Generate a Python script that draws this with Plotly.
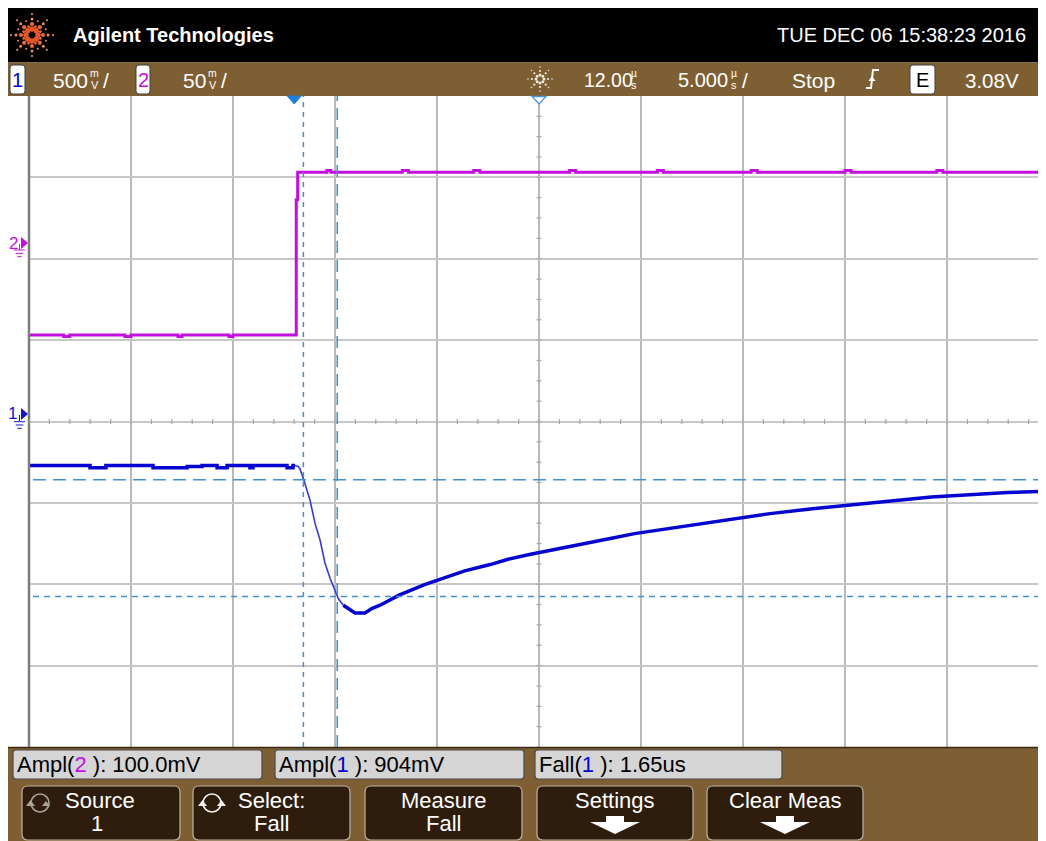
import math
import plotly.graph_objects as go

time_per_div_us = 5.0      # 5.000 us/div
delay_us = 12.0            # 12.00 us
ch1_V_per_div = 0.5        # 500 mV/div
ch2_mV_per_div = 50.0      # 50 mV/div
ch2_center_mV = -105.0     # channel 2 value at screen centre

# channel 1 (V) - flat pre-trigger level (step shape)
ch1_flat_t = [-13.0, -10.01, -9.23, -6.92, -5.25, -4.52, -3.78, -3.29, -2.17, -2.02, -0.35, -0.06, 0.04]
ch1_flat_v = [-0.270, -0.284, -0.270, -0.284, -0.277, -0.270, -0.284, -0.270, -0.284, -0.270, -0.284, -0.270, -0.270]
# channel 1 - falling edge
ch1_edge_t = [0.04, 0.20, 0.28, 0.48, 0.78, 1.02, 1.27, 1.51, 1.76, 2.00, 2.16, 2.41]
ch1_edge_v = [-0.270, -0.276, -0.290, -0.362, -0.485, -0.626, -0.730, -0.871, -0.963, -1.037, -1.088, -1.129]
# channel 1 - undershoot and recovery
ch1_tail_t = [2.41, 2.74, 2.98, 3.47, 3.80, 4.21, 5.14, 6.39, 7.12, 8.36, 9.61, 10.44, 11.59, 12.94,
              14.19, 15.43, 16.68, 18.34, 20.01, 21.46, 23.33, 25.41, 27.07, 29.16, 31.23, 33.31, 34.97, 37.0]
ch1_tail_v = [-1.129, -1.160, -1.176, -1.176, -1.149, -1.129, -1.067, -1.002, -0.971, -0.918, -0.879, -0.848,
              -0.816, -0.781, -0.747, -0.720, -0.689, -0.658, -0.624, -0.597, -0.566, -0.536, -0.515, -0.489,
              -0.464, -0.448, -0.436, -0.428]

# channel 2 (mV) - step shape
ch2_t = [-13.0, -11.3, -11.0, -8.3, -8.0, -5.7, -5.5, -3.2, -3.0, 0.10, 0.17, 1.6, 1.8, 5.3, 5.6, 8.8, 9.1,
         13.5, 13.8, 17.8, 18.1, 22.4, 22.7, 27.0, 27.3, 31.5, 31.8, 37.0]
ch2_v = [-51.8, -52.8, -51.8, -52.8, -51.8, -52.8, -51.8, -52.8, -51.8, 31.2, 48.2, 49.2, 48.2, 49.2, 48.2,
         49.2, 48.2, 49.2, 48.2, 49.2, 48.2, 49.2, 48.2, 49.2, 48.2, 49.2, 48.2, 48.2]

# measurement cursors
cursor_t_us = [0.45, 2.11]
cursor_ch1_V = [-0.358, -1.075]

header_left = "Agilent Technologies"
header_right = "TUE DEC 06 15:38:23 2016"
ch1_scale_txt = "500"
ch2_scale_txt = "50"
delay_txt = "12.00"
tdiv_txt = "5.000"
run_txt = "Stop"
trig_src_txt = "E"
trig_level_txt = "3.08V"
meas_texts = [("Ampl(", "2", " ): 100.0mV"), ("Ampl(", "1", " ): 904mV"), ("Fall(", "1", " ): 1.65us")]
softkeys = [("Source", "1"), ("Select:", "Fall"), ("Measure", "Fall"), ("Settings", None), ("Clear Meas", None)]

# ---------------- style / geometry (screen pixel positions) ----------------
W, H = 1046, 841
OFF = 8                          # page margin of the browser
PL, PR, PT, PB = 29, 1049, 96, 747
C1 = "#0505cf"
C1E = "#3b3bc8"
C2 = "#c40ee0"
CUR = "#3f8fd2"
BROWN = "#7e5f34"
KEY = "#2e1d0c"
F = "Liberation Sans, Arial, sans-serif"

x_range = [delay_us - 5 * time_per_div_us, delay_us + 5 * time_per_div_us]
y1_range = [-4 * ch1_V_per_div, 4 * ch1_V_per_div]
y2_range = [ch2_center_mV - 4 * ch2_mV_per_div, ch2_center_mV + 4 * ch2_mV_per_div]
px_per_V = (PB - PT) / (y1_range[1] - y1_range[0])
px_per_us = (PR - PL) / (x_range[1] - x_range[0])


def X(x):
    return (x - OFF) / W


def Y(y):
    return 1 - (y - OFF) / H


def P(x, y):
    return f"{X(x):.5f},{Y(y):.5f}"


def rrect(x0, y0, x1, y1, r):
    return (f"M{P(x0 + r, y0)} L{P(x1 - r, y0)} Q{P(x1, y0)} {P(x1, y0 + r)} L{P(x1, y1 - r)} "
            f"Q{P(x1, y1)} {P(x1 - r, y1)} L{P(x0 + r, y1)} Q{P(x0, y1)} {P(x0, y1 - r)} "
            f"L{P(x0, y0 + r)} Q{P(x0, y0)} {P(x0 + r, y0)} Z")


shapes = []
annotations = []


def rect(x0, y0, x1, y1, color, layer="below"):
    shapes.append(dict(type="rect", xref="paper", yref="paper", x0=X(x0), x1=X(x1), y0=Y(y1), y1=Y(y0),
                       fillcolor=color, line=dict(width=0), layer=layer))


def rpath(x0, y0, x1, y1, r, fill, lc, lw):
    shapes.append(dict(type="path", xref="paper", yref="paper", path=rrect(x0, y0, x1, y1, r),
                       fillcolor=fill, line=dict(color=lc, width=lw), layer="above"))


def poly(pts, fill, lc=None, lw=0):
    path = "M" + " L".join(P(a, b) for a, b in pts) + " Z"
    shapes.append(dict(type="path", xref="paper", yref="paper", path=path, fillcolor=fill,
                       line=dict(color=lc or fill, width=lw), layer="above"))


def line(x0, y0, x1, y1, color, width, dash="solid"):
    shapes.append(dict(type="line", xref="paper", yref="paper", x0=X(x0), x1=X(x1), y0=Y(y0), y1=Y(y1),
                       line=dict(color=color, width=width, dash=dash), layer="above"))


def dot(cx, cy, r, color):
    shapes.append(dict(type="circle", xref="paper", yref="paper", x0=X(cx - r), x1=X(cx + r),
                       y0=Y(cy + r), y1=Y(cy - r), fillcolor=color, line=dict(width=0), layer="above"))


def text(t, x, y, size, color="white", xanchor="left", family=F):
    annotations.append(dict(text=t, x=X(x), y=Y(y), xref="paper", yref="paper", showarrow=False,
                            xanchor=xanchor, yanchor="middle", font=dict(family=family, size=size, color=color)))


# background panels
rect(7, 7.5, W + 10, 62.5, "black")
rect(7, 62.5, W + 10, PT, BROWN)
rect(7, PB, W + 10, H + 10, BROWN)
line(7, PB + 0.5, W + 10, PB + 0.5, "#3a2a12", 1.5)

# Agilent spark logo
for k in range(8):
    a = math.radians(k * 45)
    for r, s, c in [(6, 2.7, "#e8552d"), (11, 2.1, "#ea6a3c"), (16, 1.5, "#ee8a5a"), (21, 1.0, "#f0a47a")]:
        dot(32 + r * math.cos(a), 35 + r * math.sin(a), s, c)
    a2 = math.radians(k * 45 + 22.5)
    for r, s, c in [(9, 1.4, "#ea6a3c"), (15, 1.0, "#ee8a5a")]:
        dot(32 + r * math.cos(a2), 35 + r * math.sin(a2), s, c)

text(f"<b>{header_left}</b>", 71, 35, 20)
text(header_right, 1028, 35, 20, xanchor="right")

# status bar
rpath(10, 65, 25, 94, 3, "white", "#404040", 1)
text("1", 17.5, 80, 20, color="#0000cc", xanchor="center")
text(ch1_scale_txt, 51, 80, 21)
text("m", 94.5, 73, 10.5, xanchor="center")
text("V", 94.5, 85, 11, xanchor="center")
text("/", 101, 80, 21)
rpath(136, 65, 150, 94, 3, "white", "#404040", 1)
text("2", 143, 80, 20, color=C2, xanchor="center")
text(ch2_scale_txt, 181, 80, 21)
text("m", 212.5, 73, 10.5, xanchor="center")
text("V", 212.5, 85, 11, xanchor="center")
text("/", 219, 80, 21)
for k in range(8):
    a = math.radians(k * 45)
    for r, s in [(4, 1.5), (8, 1.1), (12, 0.8)]:
        dot(540 + r * math.cos(a), 79 + r * math.sin(a), s, "#efe8dc")
text(delay_txt, 582, 80, 19.5)
text("µ", 634, 73, 10.5, xanchor="center")
text("s", 634, 85, 11, xanchor="center")
text(tdiv_txt, 676, 80, 20)
text("µ", 734, 73, 10.5, xanchor="center")
text("s", 734, 85, 11, xanchor="center")
text("/", 740, 80, 21)
text(run_txt, 790, 80, 21)
shapes.append(dict(type="path", xref="paper", yref="paper",
                   path=f"M{P(866, 88)} L{P(871, 88)} L{P(873, 70)} L{P(879, 70)}",
                   line=dict(color="white", width=2), layer="above"))
poly([(868.5, 81), (872, 76), (875.5, 81)], "white")
rpath(910, 65, 935, 94, 3, "white", "#404040", 1)
text(trig_src_txt, 922.5, 80, 20, color="black", xanchor="center")
text(trig_level_txt, 1021, 80, 20.5, xanchor="right")

# measurement boxes
boxes = [(13, 262), (275, 524), (535, 782)]
for (bx0, bx1), (a, ch, b) in zip(boxes, meas_texts):
    rpath(bx0, 750, bx1, 779, 3, "#d5d5d5", "#4a4a4a", 1.2)
    col = C2 if ch == "2" else "#0000cc"
    text(f"{a}<span style='color:{col}'>{ch}</span>{b}", bx0 + 2, 764.5, 22, color="black")

# softkeys
keys = [(22, 180), (193, 350), (365, 522), (537, 693), (707, 863)]
for i, ((kx0, kx1), (l1, l2)) in enumerate(zip(keys, softkeys)):
    rpath(kx0, 786, kx1, 840, 6, KEY, "#bdb3a6", 1.2)
    cx = (kx0 + kx1) / 2
    if i == 0:
        cx = 100
    if i == 1:
        cx = 271
    text(l1, cx, 800, 22, xanchor="center")
    if l2:
        text(l2, cx - (3 if i == 0 else 0), 823, 22, xanchor="center")
    else:
        poly([(cx - 9, 816), (cx + 9, 816), (cx + 9, 822), (cx + 25, 822), (cx, 834), (cx - 25, 822),
              (cx - 9, 822)], "white")
# rotate icons on the first two softkeys
for (ix, col) in [(40, "#a9a39a"), (212, "#f2f2f2")]:
    shapes.append(dict(type="circle", xref="paper", yref="paper", x0=X(ix - 9), x1=X(ix + 9),
                       y0=Y(812), y1=Y(794), line=dict(color=col, width=1.6), layer="above"))
    poly([(ix - 14, 806), (ix - 5, 806), (ix - 9.5, 800)], col)
    poly([(ix + 5, 806), (ix + 14, 806), (ix + 9.5, 800)] if ix > 100 else
         [(ix + 2, 806), (ix + 10, 806), (ix + 6, 801)], col)

# ground reference markers
text("2", 13, 243, 17, color=C2, xanchor="center")
poly([(21, 237), (28, 243), (21, 249)], C2)
line(19.5, 244, 19.5, 250, C2, 1)
line(14, 250, 25, 250, C2, 1)
line(15.7, 253.3, 23.3, 253.3, C2, 1)
line(17.3, 256.7, 21.7, 256.7, C2, 1)
text("1", 12.5, 413, 17, color="#1414cc", xanchor="center")
poly([(21, 408), (28, 414), (21, 420)], "#1414cc")
line(19.5, 415, 19.5, 421.5, "#1414cc", 1)
line(14, 421.7, 25, 421.7, "#1414cc", 1)
line(15.7, 425, 23.3, 425, "#1414cc", 1)
line(17.3, 428.3, 21.7, 428.3, "#1414cc", 1)

# left screen border
line(PL, PT, PL, PB, "#7d7d7d", 2.5)

# centre-axis minor ticks (data coordinates)
tick_h = 2.5 / px_per_V
tick_w = 2.5 / px_per_us
t = x_range[0]
while t < x_range[1]:
    shapes.append(dict(type="line", xref="x", yref="y", x0=t, x1=t, y0=-tick_h, y1=tick_h,
                       line=dict(color="#a8a8a8", width=1.2), layer="above"))
    t += time_per_div_us / 5
v = y1_range[0]
while v <= y1_range[1] + 1e-9:
    shapes.append(dict(type="line", xref="x", yref="y", x0=delay_us - tick_w, x1=delay_us + tick_w, y0=v, y1=v,
                       line=dict(color="#a8a8a8", width=1.2), layer="above"))
    v += ch1_V_per_div / 4

# cursors
for tc, dash in zip(cursor_t_us, ["5px,5px", "12px,7px"]):
    shapes.append(dict(type="line", xref="x", yref="paper", x0=tc, x1=tc, y0=Y(PB), y1=Y(PT),
                       line=dict(color=CUR, width=1.5, dash=dash), layer="above"))
for vc, dash in zip(cursor_ch1_V, ["13px,7px", "6px,5px"]):
    shapes.append(dict(type="line", xref="paper", yref="y", x0=X(PL + 4), x1=1, y0=vc, y1=vc,
                       line=dict(color=CUR, width=1.5, dash=dash), layer="above"))

# trigger (t=0) and delay markers at top
hw = 7 / px_per_us
shapes.append(dict(type="path", xref="x", yref="paper",
                   path=f"M{-hw},{Y(PT):.5f} L{hw},{Y(PT):.5f} L0,{Y(PT + 8):.5f} Z",
                   fillcolor="#1f7fd8", line=dict(color="#1f7fd8", width=1), layer="above"))
shapes.append(dict(type="path", xref="x", yref="paper",
                   path=f"M{delay_us - hw},{Y(PT + 0.5):.5f} L{delay_us + hw},{Y(PT + 0.5):.5f} L{delay_us},{Y(PT + 8):.5f} Z",
                   fillcolor="white", line=dict(color="#4a95dc", width=1.3), layer="above"))

fig = go.Figure()
fig.add_trace(go.Scatter(x=ch2_t, y=ch2_v, mode="lines", yaxis="y2", line=dict(color=C2, width=3, shape="hv"),
                         hoverinfo="skip", showlegend=False))
fig.add_trace(go.Scatter(x=ch1_flat_t, y=ch1_flat_v, mode="lines", line=dict(color=C1, width=3.5, shape="hv"),
                         hoverinfo="skip", showlegend=False))
fig.add_trace(go.Scatter(x=ch1_edge_t, y=ch1_edge_v, mode="lines", line=dict(color=C1E, width=1.6),
                         hoverinfo="skip", showlegend=False))
fig.add_trace(go.Scatter(x=ch1_tail_t, y=ch1_tail_v, mode="lines", line=dict(color=C1, width=3.5),
                         hoverinfo="skip", showlegend=False))

fig.update_layout(
    width=W, height=H, margin=dict(l=0, r=0, t=0, b=0, pad=0, autoexpand=False),
    paper_bgcolor="white", plot_bgcolor="rgba(0,0,0,0)", showlegend=False,
    xaxis=dict(domain=[X(PL), X(PR)], range=x_range, dtick=time_per_div_us, tick0=x_range[0],
               showgrid=True, gridcolor="#b9b9b9", gridwidth=1.5, zeroline=False, showticklabels=False,
               ticks="", showline=False, fixedrange=True),
    yaxis=dict(domain=[Y(PB), Y(PT)], range=y1_range, dtick=ch1_V_per_div, showgrid=True,
               gridcolor="#c7c7c7", gridwidth=2, zeroline=False, showticklabels=False, ticks="",
               showline=False, fixedrange=True),
    yaxis2=dict(overlaying="y", range=y2_range, visible=False, showgrid=False, fixedrange=True),
    shapes=shapes, annotations=annotations,
)
fig.write_html("out.html")
